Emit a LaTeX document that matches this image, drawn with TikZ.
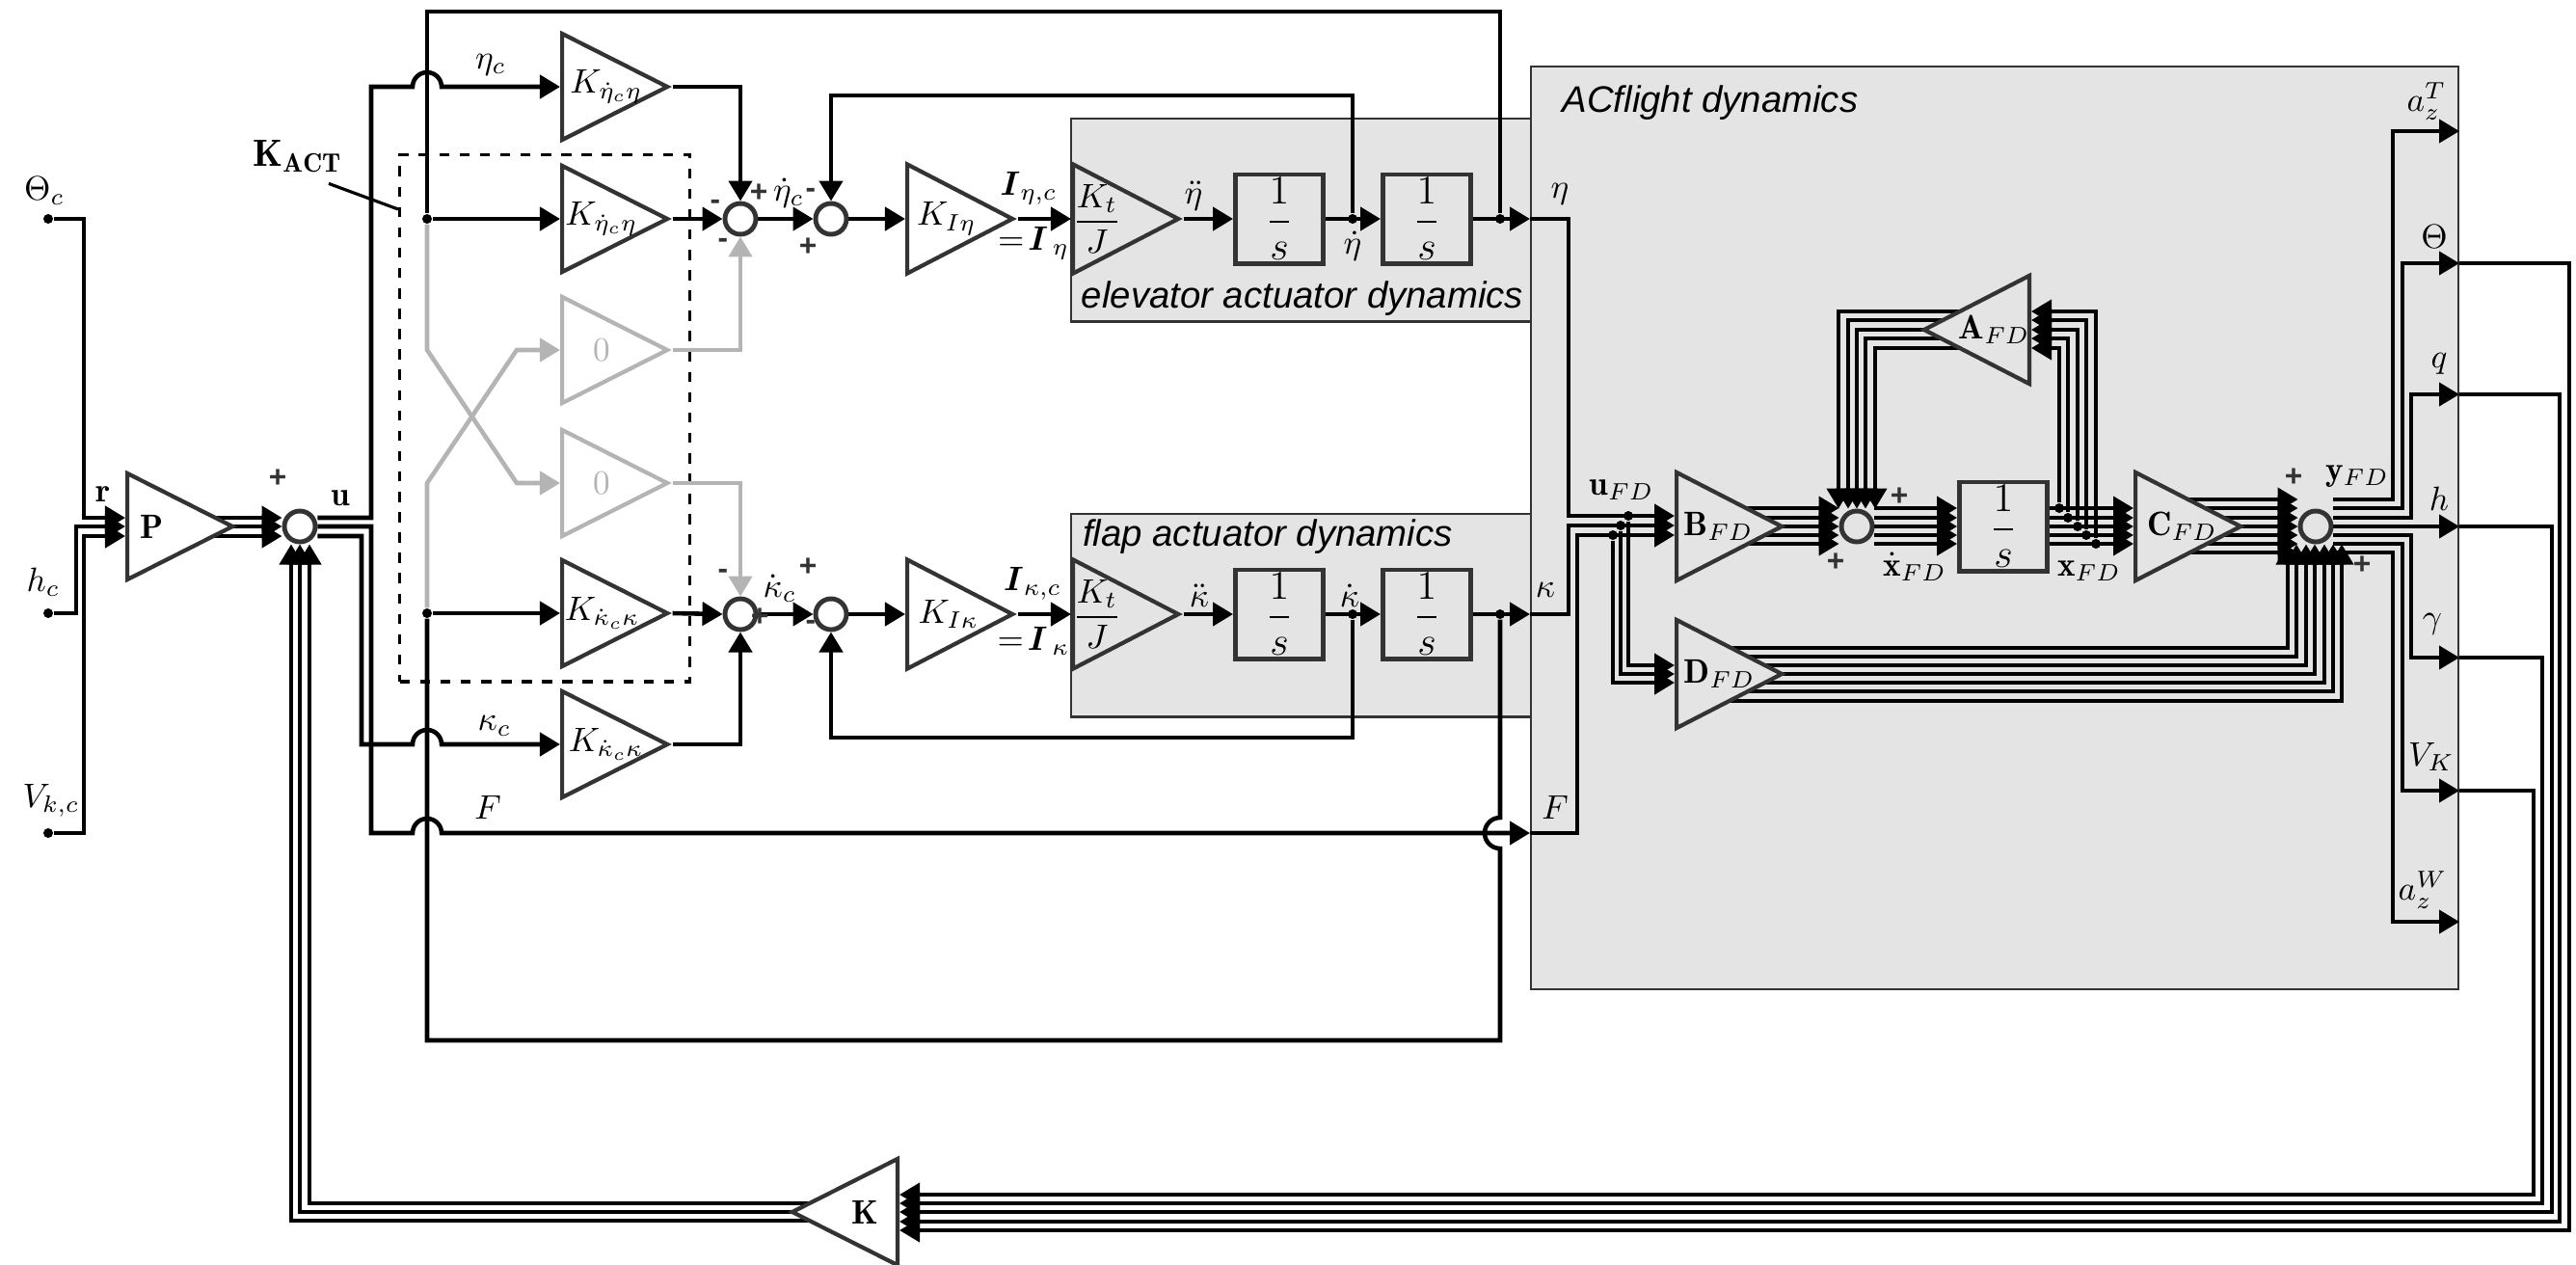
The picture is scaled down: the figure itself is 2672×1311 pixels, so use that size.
\documentclass[tikz,border=0pt]{standalone}
\usepackage{amsmath}
\usepackage{fontspec}
\usetikzlibrary{arrows.meta,calc,shapes.geometric}
\newfontfamily\titlefont{Liberation Sans}
\definecolor{panelgray}{HTML}{E4E4E4}
\definecolor{edgegray}{HTML}{333333}
\definecolor{offgray}{HTML}{B4B4B4}
\newcommand{\gainlabel}[2][-0.15cm]{\makebox[0pt][l]{\hspace{#1}$#2$}}
\pgfdeclarelayer{panel}
\pgfdeclarelayer{wire}
\pgfsetlayers{panel,wire,main}
\tikzset{
  sig/.style={line width=1.3pt},
  bus/.style={line width=1.15pt},
  arw/.style={-{Triangle[length=0.21cm,width=0.24cm]}},
  offsig/.style={line width=1.3pt,draw=offgray},
  offarw/.style={-{Triangle[length=0.21cm,width=0.24cm,fill=offgray]}},
  gain/.style={isosceles triangle,isosceles triangle stretches,draw=edgegray,
    line width=1.2pt,fill=white,inner sep=0pt,minimum width=1.1cm,minimum height=1.09cm,anchor=lower side},
  gaingray/.style={gain,fill=panelgray},
  gainoff/.style={gain,draw=offgray,text=offgray},
  gainback/.style={gaingray,shape border rotate=180},
  sumpt/.style={circle,draw=edgegray,line width=1.4pt,fill=white,inner sep=0pt,minimum size=0.32cm},
  sumgray/.style={sumpt,fill=panelgray},
  intbox/.style={rectangle,draw=edgegray,line width=1.4pt,fill=panelgray,inner sep=0pt,
    minimum width=0.91cm,minimum height=0.92cm,font=\large},
  branch/.style={circle,fill=black,inner sep=0pt,minimum size=0.1cm},
  lab/.style={inner sep=0pt},
  sgn/.style={inner sep=0pt,font=\titlefont\bfseries\small,text=edgegray},
  captext/.style={inner sep=0pt,font=\titlefont\itshape\fontsize{10.9}{13}\selectfont},
  panelbox/.style={rectangle,draw=edgegray,line width=0.7pt,fill=panelgray,inner sep=0pt,anchor=north west}
}
\begin{document}
\begin{tikzpicture}[x=0.01cm,y=-0.01cm]
\useasboundingbox (0,0) rectangle (2672,1311);

% shaded groups
\begin{pgfonlayer}{panel}
\node[panelbox,minimum width=4.77cm,minimum height=2.10cm] (panelEta) at (1110,122) {};
\node[panelbox,minimum width=4.77cm,minimum height=2.10cm] (panelKap) at (1110,532) {};
\node[panelbox,minimum width=9.61cm,minimum height=9.56cm] (panelAC) at (1587,68) {};
\node[rectangle,draw,dashed,line width=0.9pt,inner sep=0pt,minimum width=3.01cm,minimum height=5.46cm,anchor=north west] (boxAct) at (413,159) {};
\end{pgfonlayer}

% input and feedback gains
\node[gain] (gainP) at (130,546) {\gainlabel[-0.13cm]{\mathbf{P}}};
\node[gain] (gainEtaA) at (581,90) {\gainlabel{K_{\dot\eta_c\eta}}};
\node[gain] (gainEtaB) at (581,227) {\gainlabel[-0.20cm]{K_{\dot\eta_c\eta}}};
\node[gainoff] (gainZeroA) at (581,363) {\gainlabel[0.05cm]{0}};
\node[gainoff] (gainZeroB) at (581,501) {\gainlabel[0.05cm]{0}};
\node[gain] (gainKapA) at (581,636) {\gainlabel[-0.21cm]{K_{\dot\kappa_c\kappa}}};
\node[gain] (gainKapB) at (581,772) {\gainlabel[-0.17cm]{K_{\dot\kappa_c\kappa}}};
\node[gain,minimum width=1.13cm] (gainIEta) at (939,227) {\gainlabel[-0.14cm]{K_{I\eta}}};
\node[gain,minimum width=1.13cm] (gainIKap) at (939,637) {\gainlabel[-0.14cm]{K_{I\kappa}}};
\node[gain,fill=white,shape border rotate=180] (gainK) at (933,1257) {\gainlabel[-0.21cm]{\mathbf{K}}};

\node[sumpt] (sumU) at (311,546) {};
\node[sumpt] (sumEta) at (768,227) {};
\node[sumpt] (sumEtaI) at (862,227) {};
\node[sumpt] (sumKap) at (768,637) {};
\node[sumpt] (sumKapI) at (862,637) {};

% actuators
\node[gaingray,minimum width=1.13cm] (gainJEta) at (1111,227) {\gainlabel[-0.13cm]{\dfrac{K_t}{J}}};
\node[intbox] (intEtaA) at (1327,227) {$\dfrac{1}{s}$};
\node[intbox] (intEtaB) at (1480,227) {$\dfrac{1}{s}$};
\node[gaingray,minimum width=1.13cm] (gainJKap) at (1111,637) {\gainlabel[-0.13cm]{\dfrac{K_t}{J}}};
\node[intbox] (intKapA) at (1327,637) {$\dfrac{1}{s}$};
\node[intbox] (intKapB) at (1480,637) {$\dfrac{1}{s}$};

% flight dynamics
\node[gaingray,minimum width=1.12cm] (gainB) at (1737,546) {\gainlabel[-0.18cm]{\mathbf{B}_{FD}}};
\node[gaingray,minimum width=1.12cm] (gainD) at (1737,699) {\gainlabel[-0.18cm]{\mathbf{D}_{FD}}};
\node[gaingray,minimum width=1.12cm] (gainC) at (2213,546) {\gainlabel[-0.13cm]{\mathbf{C}_{FD}}};
\node[gainback,minimum width=1.12cm] (gainA) at (2107,342) {\gainlabel[-0.48cm]{\mathbf{A}_{FD}}};
\node[sumgray] (sumX) at (1926,546) {};
\node[sumgray] (sumY) at (2402,546) {};
\node[intbox] (intX) at (2078,546) {$\dfrac{1}{s}$};

% branch points
\node[branch] (dotTheta) at (50,227) {};
\node[branch] (dotH) at (50,636) {};
\node[branch] (dotV) at (50,864) {};
\node[branch] (dotEtaFb) at (443,227) {};
\node[branch] (dotKapFb) at (443,636) {};
\node[branch] (dotVelE) at (1403,227) {};
\node[branch] (dotOutE) at (1556,227) {};
\node[branch] (dotVelK) at (1403,637) {};
\node[branch] (dotOutK) at (1556,637) {};
\node[branch] (dotU1) at (1689,535) {};
\node[branch] (dotU2) at (1681,545) {};
\node[branch] (dotU3) at (1673,555) {};
\foreach \x/\y in {2136/527,2145/537,2155/546,2164/555,2174/564}
  \node[branch] (dotX\y) at (\x,\y) {};

% captions
\node[captext] (capEta) at (1351,310) {elevator actuator dynamics};
\node[captext] (capKap) at (1315,557) {flap actuator dynamics};
\node[captext] (capAC) at (1774,107) {ACflight dynamics};

% signal labels
\node[lab,scale=1.12] (lblAct) at (309,162) {$\mathbf{K}_{\mathbf{ACT}}$};
\node[lab] (lblTheta) at (46,198) {$\Theta_c$};
\node[lab] (lblH) at (45,604) {$h_c$};
\node[lab] (lblV) at (53,830) {$V_{k,c}$};
\node[lab] (lblR) at (107,513) {$\mathbf{r}$};
\node[lab] (lblU) at (353,517) {$\mathbf{u}$};
\node[lab] (lblEtaC) at (509,67) {$\eta_c$};
\node[lab] (lblKapC) at (513,753) {$\kappa_c$};
\node[lab] (lblFa) at (506,837) {$F$};
\node[lab] (lblEtaDc) at (818,200) {$\dot\eta_c$};
\node[lab] (lblKapDc) at (809,610) {$\dot\kappa_c$};
\node[lab] (lblIEtaC) at (1067,195) {$\boldsymbol{I}_{\eta,c}$};
\node[lab] (lblIEta) at (1072,252) {$=\!\boldsymbol{I}_{\,\eta}$};
\node[lab] (lblIKapC) at (1071,605) {$\boldsymbol{I}_{\kappa,c}$};
\node[lab] (lblIKap) at (1072,665) {$=\!\boldsymbol{I}_{\,\kappa}$};
\node[lab] (lblEtaDD) at (1238,203) {$\ddot\eta$};
\node[lab] (lblEtaD) at (1403,255) {$\dot\eta$};
\node[lab] (lblEta) at (1618,201) {$\eta$};
\node[lab] (lblKapDD) at (1244,618) {$\ddot\kappa$};
\node[lab] (lblKapD) at (1400,618) {$\dot\kappa$};
\node[lab] (lblKap) at (1603,612) {$\kappa$};
\node[lab] (lblFb) at (1613,837) {$F$};
\node[lab] (lblUfd) at (1682,508) {$\mathbf{u}_{FD}$};
\node[lab] (lblXdfd) at (1986,588) {$\dot{\mathbf{x}}_{FD}$};
\node[lab] (lblXfd) at (2167,592) {$\mathbf{x}_{FD}$};
\node[lab] (lblYfd) at (2445,494) {$\mathbf{y}_{FD}$};
\node[lab] (lblAzT) at (2517,105) {$a_z^T$};
\node[lab] (lblOutTheta) at (2525,245) {$\Theta$};
\node[lab] (lblQ) at (2530,377) {$q$};
\node[lab] (lblOutH) at (2530,517) {$h$};
\node[lab] (lblGamma) at (2523,647) {$\gamma$};
\node[lab] (lblVk) at (2522,785) {$V_K$};
\node[lab] (lblAzW) at (2513,923) {$a_z^W$};

% summation signs
\foreach \i/\x/\y/\s in {1/288/496/+,2/787/200/+,3/742/212/-,4/750/252/-,5/841/200/-,6/838/256/+,
  7/750/595/-,8/788/640/+,9/838/588/+,10/841/648/-,11/1970/515/+,12/1904/583/+,13/2379/495/+,14/2450/586/+}
  \node[sgn] (sign\i) at (\x,\y) {\s};

\begin{pgfonlayer}{wire}
% references into P
\draw[sig,arw] (dotTheta) -| (87,537) -- (gainP.lower side |- 0,537);
\draw[sig,arw] (dotH) -| (79,546) -- (gainP.lower side |- 0,546);
\draw[sig,arw] (dotV) -| (87,556) -- (gainP.lower side |- 0,556);
\foreach \y in {537,546,556}
  \draw[sig,arw] (gainP.center |- 0,\y) -- (sumU.west |- 0,\y);

% split of u
\draw[sig,arw] (sumU.east |- 0,537) -| (385,90) -- (428,90) arc (180:0:0.15cm) -- (gainEtaA.lower side);
\draw[sig,arw] (sumU.east |- 0,546) -| (385,864) -- (428,864) arc (180:0:0.15cm) -- (panelAC.west |- 0,864);
\draw[sig,arw] (sumU.east |- 0,556) -| (375,772) -- (428,772) arc (180:0:0.15cm) -- (gainKapB.lower side);

% KACT cross terms
\draw[offsig,offarw] (dotEtaFb) -- (443,363) -- (536,501) -- (gainZeroB.lower side);
\draw[offsig,offarw] (dotKapFb) -- (443,501) -- (536,363) -- (gainZeroA.lower side);
\draw[offsig,offarw] (gainZeroA.apex) -| (sumEta.south);
\draw[offsig,offarw] (gainZeroB.apex) -| (sumKap.north);

% position feedback loops
\draw[sig] (dotOutE) |- (443,12) -- (dotEtaFb);
\draw[sig] (dotOutK) -- (1556,848) arc (90:270:0.16cm) |- (443,1079) -- (dotKapFb);
\draw[sig,arw] (dotEtaFb) -- (gainEtaB.lower side);
\draw[sig,arw] (dotKapFb) -- (gainKapA.lower side);

% forward paths
\draw[sig,arw] (gainEtaA.apex) -| (sumEta.north);
\draw[sig,arw] (gainKapB.apex) -| (sumKap.south);
\foreach \n in {Eta,Kap}{
  \draw[sig,arw] (sum\n.east) -- (sum\n I.west);
  \draw[sig,arw] (sum\n I.east) -- (gainI\n.lower side);
  \draw[sig,arw] (gainI\n.apex) -- (gainJ\n.lower side);
  \draw[sig,arw] (gainJ\n.apex) -- (int\n A.west);
  \draw[sig,arw] (int\n A.east) -- (int\n B.west);
  \draw[sig,arw] (int\n B.east) -- (panelAC.west |- int\n B);
}
\draw[sig,arw] (gainEtaB.apex) -- (sumEta.west);
\draw[sig,arw] (gainKapA.apex) -- (sumKap.west);
\draw[sig,arw] (dotVelE) |- (862,99) -- (sumEtaI.north);
\draw[sig,arw] (dotVelK) |- (862,765) -- (sumKapI.south);

% inputs of the flight dynamics
\draw[sig,arw] (panelAC.west |- intEtaB) -| (1627,535) -- (gainB.lower side |- 0,535);
\draw[sig,arw] (panelAC.west |- intKapB) -| (1627,545) -- (gainB.lower side |- 0,545);
\draw[sig,arw] (panelAC.west |- 0,864) -| (1636,555) -- (gainB.lower side |- 0,555);
\foreach \n/\v in {1/690,2/699,3/708}
  \draw[sig,arw] (dotU\n) |- (gainD.lower side |- 0,\v);

% state buses
\foreach \y in {527,537,546,555,564}{
  \draw[bus,arw] (gainB.center |- 0,\y) -- (sumX.west |- 0,\y);
  \draw[bus,arw] (sumX.east |- 0,\y) -- (intX.west |- 0,\y);
  \draw[bus,arw] (intX.east |- 0,\y) -- (gainC.lower side |- 0,\y);
}
\foreach \y/\v in {527/361,537/351,546/342,555/332,564/323}
  \draw[bus,arw] (dotX\y) |- (gainA.lower side |- 0,\v);
\foreach \x/\y in {1907/323,1917/332,1926/342,1935/351,1945/361}
  \draw[bus,arw] (gainA.center |- 0,\y) -| (\x,0 |- sumX.north);

% output buses
\foreach \y in {518,527,537,546,555,564,573}
  \draw[bus,arw] (gainC.center |- 0,\y) -- (sumY.west |- 0,\y);
\foreach \x/\y in {2373/672,2382/681,2392/690,2401/699,2411/708,2420/717,2429/727}
  \draw[bus,arw] (gainD.center |- 0,\y) -| (\x,0 |- sumY.south);
\foreach \y/\x/\v in {518/2482/136,527/2492/273,537/2501/409,555/2501/682,564/2492/820,573/2482/956}
  \draw[bus,arw] (sumY.east |- 0,\y) -| (\x,\v) -- (panelAC.east |- 0,\v);
\draw[bus,arw] (sumY.east) -- (panelAC.east |- sumY);

% feedback through K
\foreach \v/\x/\k in {273/2665/1276,409/2655/1267,546/2647/1257,682/2637/1248,820/2628/1239}
  \draw[bus,arw] (panelAC.east |- 0,\v) -| (\x,\k) -- (gainK.lower side |- 0,\k);
\foreach \y/\x in {1248/321,1257/311,1266/302}
  \draw[bus,arw] (gainK.center |- 0,\y) -| (\x,0 |- sumU.south);

% KACT pointer
\draw[line width=0.9pt] ($(lblAct.south)+(32,11)$) -- (boxAct.west |- 0,217);
\end{pgfonlayer}
\end{tikzpicture}
\end{document}
